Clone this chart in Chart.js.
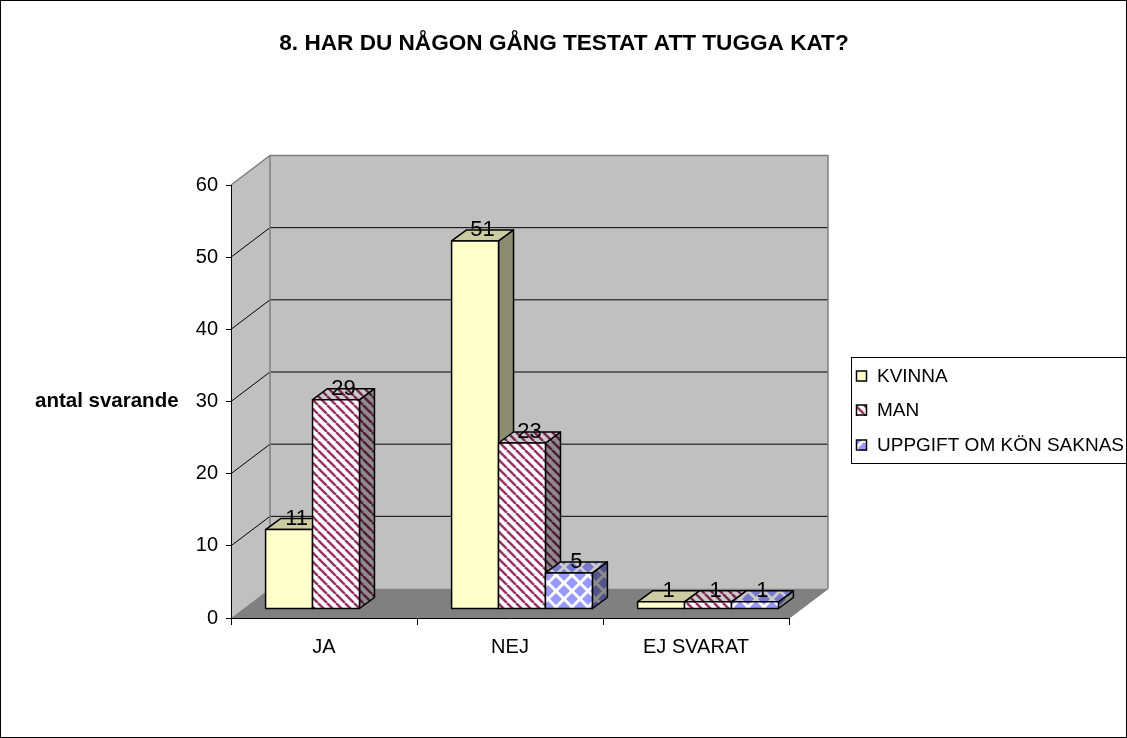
<!DOCTYPE html>
<html><head><meta charset="utf-8">
<script src="https://cdn.jsdelivr.net/npm/chart.js@4.4.1/dist/chart.umd.min.js"></script>
<style>html,body{margin:0;padding:0;background:#fff;overflow:hidden}</style>
</head><body>
<canvas id="c" width="1127" height="738"></canvas>
<script>
const titleText = '8. HAR DU NÅGON GÅNG TESTAT ATT TUGGA KAT?';
const yAxisTitle = 'antal svarande';
const categories = ['JA', 'NEJ', 'EJ SVARAT'];
const seriesNames = ['KVINNA', 'MAN', 'UPPGIFT OM KÖN SAKNAS'];
const kvinnaValues = [11, 51, 1];
const manValues = [29, 23, 1];
const uppgiftValues = [null, 5, 1];
const yTickValues = [0, 10, 20, 30, 40, 50, 60];

const FONT = "'Liberation Sans', Arial, sans-serif";
const DEPTH_X = 39, DEPTH_Y = -29.5;     // wall depth
const BAR_OFF_X = 12, BAR_OFF_Y = -9;    // bar row position inside depth
const BAR_DX = 15, BAR_DY = -11;         // bar depth

function stripePattern() {
  const s = 9;
  const c = document.createElement('canvas'); c.width = s; c.height = s;
  const g = c.getContext('2d');
  g.fillStyle = '#ffffff'; g.fillRect(0, 0, s, s);
  g.strokeStyle = '#993366'; g.lineWidth = 2.5;
  for (const o of [-s, 0, s]) { g.beginPath(); g.moveTo(o, 0); g.lineTo(o + s, s); g.stroke(); }
  return g.createPattern(c, 'repeat');
}
function diamondPattern() {
  const s = 16, h = 6;
  const c = document.createElement('canvas'); c.width = s; c.height = s;
  const g = c.getContext('2d');
  g.fillStyle = '#ffffff'; g.fillRect(0, 0, s, s);
  g.fillStyle = '#9999ff';
  for (const [cx, cy] of [[0,0],[s,0],[0,s],[s,s],[s/2,s/2]]) {
    g.beginPath(); g.moveTo(cx - h, cy); g.lineTo(cx, cy - h); g.lineTo(cx + h, cy); g.lineTo(cx, cy + h); g.closePath(); g.fill();
  }
  return g.createPattern(c, 'repeat');
}
const fills = ['#ffffcc', stripePattern(), diamondPattern()];

const wallsPlugin = {
  id: 'walls',
  beforeDraw(chart) {
    const ctx = chart.ctx, a = chart.chartArea, ys = chart.scales.y;
    const L = a.left, R = a.right, T = a.top, B = a.bottom;
    ctx.save();
    ctx.fillStyle = '#ffffff'; ctx.fillRect(0, 0, chart.width, chart.height);
    ctx.fillStyle = '#c0c0c0';
    ctx.beginPath(); ctx.moveTo(L, T); ctx.lineTo(L + DEPTH_X, T + DEPTH_Y); ctx.lineTo(L + DEPTH_X, B + DEPTH_Y); ctx.lineTo(L, B); ctx.closePath(); ctx.fill();
    ctx.fillRect(L + DEPTH_X, T + DEPTH_Y, R - L, B - T);
    ctx.fillStyle = '#808080';
    ctx.beginPath(); ctx.moveTo(L, B); ctx.lineTo(R, B); ctx.lineTo(R + DEPTH_X, B + DEPTH_Y); ctx.lineTo(L + DEPTH_X, B + DEPTH_Y); ctx.closePath(); ctx.fill();
    ctx.lineWidth = 1;
    for (const v of yTickValues) {
      if (v === ys.min || v === ys.max) continue;
      const y = ys.getPixelForValue(v);
      ctx.strokeStyle = '#000000';
      ctx.beginPath(); ctx.moveTo(L, y); ctx.lineTo(L + DEPTH_X, y + DEPTH_Y); ctx.lineTo(R + DEPTH_X, y + DEPTH_Y); ctx.stroke();
    }
    ctx.strokeStyle = '#808080'; ctx.lineWidth = 1.5;
    ctx.beginPath();
    ctx.moveTo(L, T); ctx.lineTo(L + DEPTH_X, T + DEPTH_Y); ctx.lineTo(R + DEPTH_X, T + DEPTH_Y); ctx.lineTo(R + DEPTH_X, B + DEPTH_Y);
    ctx.moveTo(L + DEPTH_X, T + DEPTH_Y); ctx.lineTo(L + DEPTH_X, B + DEPTH_Y);
    ctx.moveTo(R, B); ctx.lineTo(R + DEPTH_X, B + DEPTH_Y);
    ctx.stroke();
    ctx.restore();
  },
  beforeDatasetsDraw(chart) {
    const ctx = chart.ctx;
    ctx.save();
    ctx.translate(BAR_OFF_X, BAR_OFF_Y);
    const metas = chart.data.datasets.map((d, i) => chart.getDatasetMeta(i));
    const labels = [];
    for (let i = 0; i < categories.length; i++) {
      metas.forEach((meta, di) => {
        const val = chart.data.datasets[di].data[i];
        if (val === null || val === undefined) return;
        const el = meta.data[i];
        const p = el.getProps(['x', 'y', 'base', 'width'], true);
        const x0 = p.x - p.width / 2, x1 = p.x + p.width / 2, yt = p.y, yb = p.base;
        const fill = fills[di];
        ctx.lineWidth = 1.5; ctx.strokeStyle = '#000000'; ctx.lineJoin = 'round';
        ctx.beginPath(); ctx.moveTo(x1, yt); ctx.lineTo(x1 + BAR_DX, yt + BAR_DY); ctx.lineTo(x1 + BAR_DX, yb + BAR_DY); ctx.lineTo(x1, yb); ctx.closePath();
        ctx.fillStyle = fill; ctx.fill(); ctx.fillStyle = 'rgba(0,0,0,0.45)'; ctx.fill(); ctx.stroke();
        ctx.beginPath(); ctx.moveTo(x0, yt); ctx.lineTo(x0 + BAR_DX, yt + BAR_DY); ctx.lineTo(x1 + BAR_DX, yt + BAR_DY); ctx.lineTo(x1, yt); ctx.closePath();
        ctx.fillStyle = fill; ctx.fill(); ctx.fillStyle = 'rgba(0,0,0,0.2)'; ctx.fill(); ctx.stroke();
        el.draw(ctx, chart.chartArea);
        ctx.lineWidth = 1.5; ctx.strokeStyle = '#000000';
        ctx.strokeRect(x0, yt, x1 - x0, yb - yt);
        labels.push([String(val), p.x + BAR_DX / 2, yt - 5]);
      });
    }
    ctx.fillStyle = '#000000';
    ctx.font = '22px ' + FONT;
    ctx.textAlign = 'center'; ctx.textBaseline = 'alphabetic';
    for (const [t, x, y] of labels) ctx.fillText(t, x, y);
    ctx.restore();
    return false;
  },
  afterDraw(chart) {
    const ctx = chart.ctx;
    ctx.save();
    ctx.fillStyle = '#000000';
    ctx.font = 'bold 22.6px ' + FONT;
    ctx.textAlign = 'center'; ctx.textBaseline = 'middle';
    ctx.fillText(titleText, 564, 44);
    ctx.font = 'bold 20.5px ' + FONT;
    ctx.textAlign = 'left';
    ctx.fillText(yAxisTitle, 35, chart.scales.y.getPixelForValue(30));
    ctx.lineWidth = 1; ctx.strokeStyle = '#000000';
    ctx.strokeRect(851.5, 357.5, 300, 106);
    ctx.font = '19px ' + FONT;
    ctx.textBaseline = 'middle';
    const rows = [376, 410, 445];
    chart.data.datasets.forEach((ds, i) => {
      const y = rows[i];
      ctx.fillStyle = ds.backgroundColor; ctx.fillRect(856, y - 5, 11, 11);
      ctx.strokeStyle = '#000000'; ctx.lineWidth = 1.5; ctx.strokeRect(856.5, y - 5, 10, 10);
      ctx.fillStyle = '#000000'; ctx.fillText(ds.label, 877, y + 1);
    });
    ctx.lineWidth = 1; ctx.strokeStyle = '#000000';
    ctx.strokeRect(0.5, 0.5, chart.width - 1, chart.height - 1);
    ctx.restore();
  }
};

new Chart(document.getElementById('c'), {
  type: 'bar',
  data: {
    labels: categories,
    datasets: [
      { label: seriesNames[0], data: kvinnaValues, backgroundColor: fills[0] },
      { label: seriesNames[1], data: manValues, backgroundColor: fills[1] },
      { label: seriesNames[2], data: uppgiftValues, backgroundColor: fills[2] }
    ]
  },
  options: {
    responsive: false,
    animation: false,
    devicePixelRatio: 1,
    layout: { padding: { top: 185, right: 338, left: 0, bottom: 0 } },
    datasets: { bar: { categoryPercentage: 0.757, barPercentage: 1, borderWidth: 0 } },
    plugins: { legend: { display: false }, title: { display: false }, tooltip: { enabled: false } },
    scales: {
      x: {
        offset: true,
        afterFit(s) { s.height = 120; },
        grid: { display: true, drawOnChartArea: false, drawTicks: true, tickLength: 7, color: '#000000', offset: true },
        border: { display: true, color: '#000000', width: 1 },
        ticks: { color: '#000000', font: { family: FONT, size: 20 }, padding: 10, maxRotation: 0 }
      },
      y: {
        min: 0, max: 60,
        afterFit(s) { s.width = 231; },
        afterBuildTicks(s) { s.ticks = yTickValues.map(v => ({ value: v })); },
        grid: { display: true, drawOnChartArea: false, drawTicks: true, tickLength: 5, color: '#000000' },
        border: { display: true, color: '#000000', width: 1 },
        ticks: { color: '#000000', font: { family: FONT, size: 20 }, padding: 8 }
      }
    }
  },
  plugins: [wallsPlugin]
});
</script>
</body></html>
